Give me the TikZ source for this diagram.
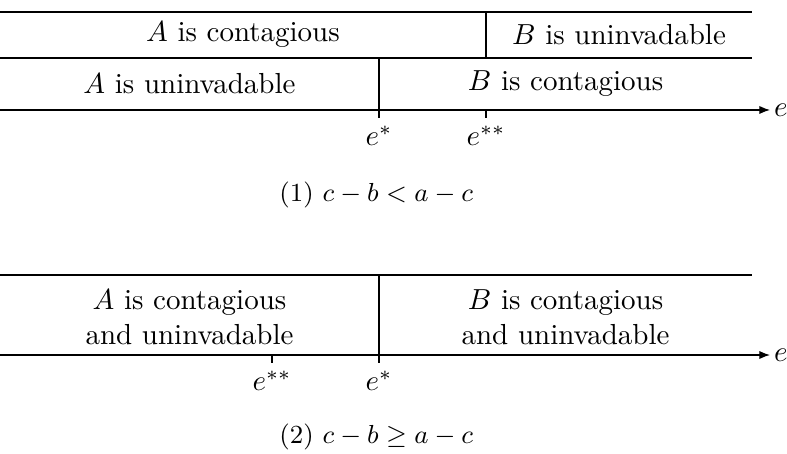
\documentclass[tikz,border=0pt]{standalone}
\usepackage{amsmath,amssymb}
\usepackage{tikz}
\usetikzlibrary{arrows.meta}

\begin{document}
\begin{tikzpicture}[
  cell/.style={align=center, inner sep=0pt},
  ticklbl/.style={anchor=north, inner sep=2.5pt},
  casetxt/.style={font=\small, inner sep=0pt},
  axis/.style={-{Latex[length=1.3mm,width=1mm]}},
  lbl/.style={anchor=west, inner sep=1.2pt}]
  \useasboundingbox (0,0) rectangle (9.539,-5.491);
  % case (1)
  \coordinate (t1l) at (0,-0.145);   \coordinate (t1r) at (9.115,-0.145);
  \coordinate (m1l) at (0,-0.703);   \coordinate (m1r) at (9.115,-0.703);
  \coordinate (a1l) at (0,-1.333);   \coordinate (a1r) at (9.333,-1.333);
  \coordinate (s1)  at (5.891,-1.333);
  \coordinate (s2)  at (4.594,-1.333);
  \draw (t1l) -- (t1r);
  \draw (m1l) -- (m1r);
  \draw (5.891,-0.145) -- (5.891,-0.703);
  \draw (4.594,-0.703) -- (s2) -- ++(0,-0.097) coordinate (s2b);
  \draw (s1) -- ++(0,-0.097) coordinate (s1b);
  \draw[axis] (a1l) -- (a1r);
  \node[lbl] (ax1) at (a1r) {$e$};
  \node[ticklbl] (es1) at (s2b) {$e^{*}$};
  \node[ticklbl] (ess1) at (s1b) {$e^{**}$};
  \node[cell] (ac1) at (2.945,-0.424) {$A$ is contagious};
  \node[cell] (bu1) at (7.503,-0.424) {$B$ is uninvadable};
  \node[cell] (au1) at (2.297,-1.018) {$A$ is uninvadable};
  \node[cell] (bc1) at (6.855,-1.018) {$B$ is contagious};
  \node[casetxt] (case1) at (4.56,-2.364) {(1)\ $c-b<a-c$};
  % case (2)
  \coordinate (t2l) at (0,-3.333);   \coordinate (t2r) at (9.115,-3.333);
  \coordinate (a2l) at (0,-4.303);   \coordinate (a2r) at (9.333,-4.303);
  \coordinate (r2)  at (4.594,-4.303);
  \coordinate (r1)  at (3.297,-4.303);
  \draw (t2l) -- (t2r);
  \draw (4.594,-3.333) -- (r2) -- ++(0,-0.097) coordinate (r2b);
  \draw (r1) -- ++(0,-0.097) coordinate (r1b);
  \draw[axis] (a2l) -- (a2r);
  \node[lbl] (ax2) at (a2r) {$e$};
  \node[ticklbl] (ess2) at (r1b) {$e^{**}$};
  \node[ticklbl] (es2) at (r2b) {$e^{*}$};
  \node[cell] (ab2) at (2.297,-3.85) {$A$ is contagious\\and uninvadable};
  \node[cell] (bb2) at (6.855,-3.85) {$B$ is contagious\\and uninvadable};
  \node[casetxt] (case2) at (4.56,-5.297) {(2)\ $c-b\geq a-c$};
\end{tikzpicture}
\end{document}
